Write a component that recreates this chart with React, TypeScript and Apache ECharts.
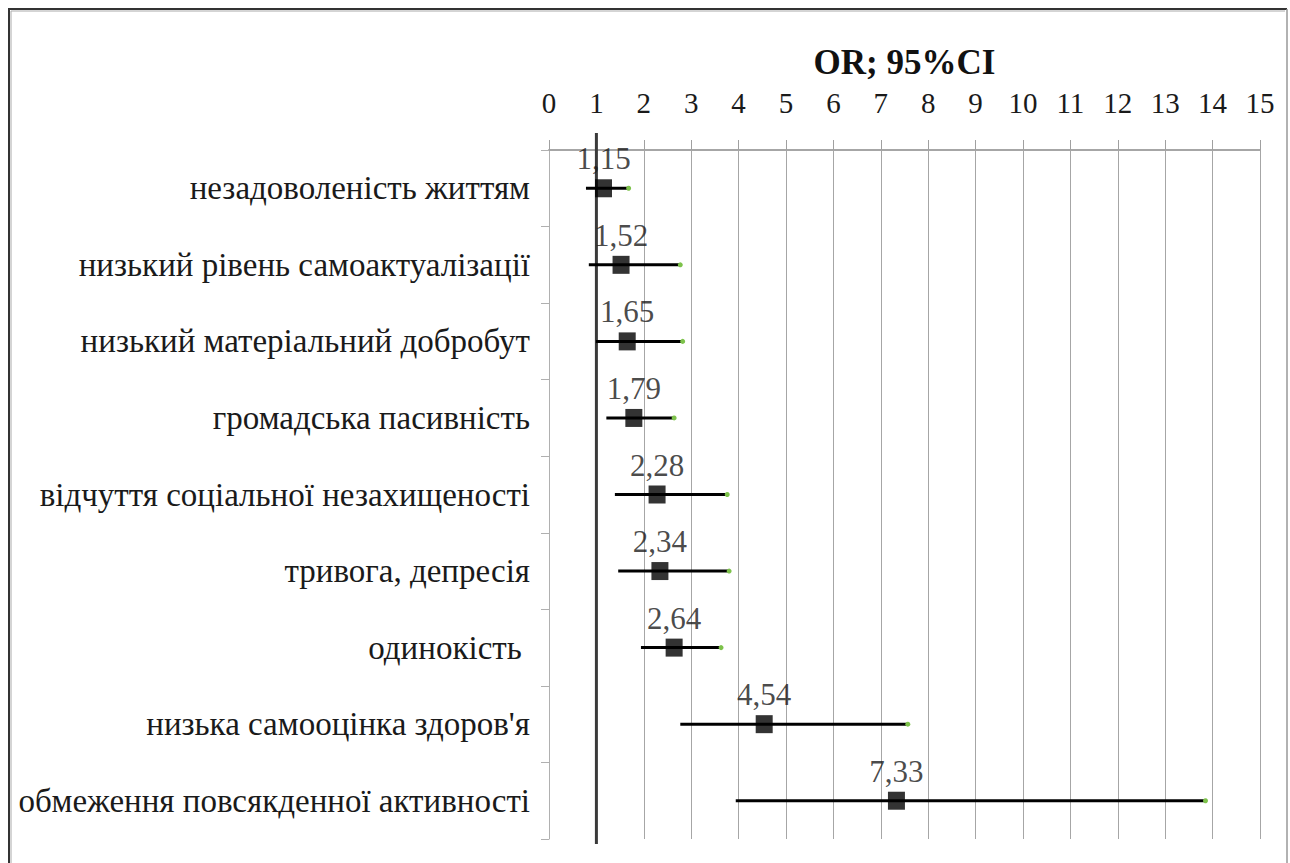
import React, { useEffect, useRef } from "react";
import * as echarts from "echarts";

const categories = [
  "незадоволеність життям",
  "низький рівень самоактуалізації",
  "низький матеріальний добробут",
  "громадська пасивність",
  "відчуття соціальної незахищеності",
  "тривога, депресія",
  "одинокість ",
  "низька самооцінка здоров'я",
  "обмеження повсякденної активності",
];
const orValues = [1.15, 1.52, 1.65, 1.79, 2.28, 2.34, 2.64, 4.54, 7.33];
const ciLow = [0.78, 0.84, 0.99, 1.21, 1.39, 1.46, 1.94, 2.77, 3.94];
const ciHigh = [1.68, 2.77, 2.82, 2.64, 3.76, 3.8, 3.63, 7.57, 13.85];
const refLine = [1];
const xTicks = { min: 0, max: 15, interval: 1 };

const FONT = "Liberation Serif";

export default function App() {
  const ref = useRef<HTMLDivElement>(null);
  useEffect(() => {
    if (!ref.current) return;
    const chart = echarts.init(ref.current, undefined, { renderer: "svg" });
    chart.setOption({
      animation: false,
      backgroundColor: "#fff",
      textStyle: { fontFamily: FONT },
      grid: { left: 549, right: 30, top: 150, bottom: 24 },
      graphic: [
        {
          type: "polyline",
          shape: { points: [[9, 870], [9, 9], [1287, 9]] },
          style: { stroke: "#333", lineWidth: 2, fill: null },
          silent: true,
        },
        {
          type: "line",
          shape: { x1: 1287, y1: 9, x2: 1287, y2: 870 },
          style: { stroke: "#999", lineWidth: 1.5 },
          silent: true,
        },
        {
          type: "polyline",
          shape: { points: [[11, 870], [11, 11], [1285, 11]] },
          style: { stroke: "#aaa", lineWidth: 1, fill: null },
          silent: true,
        },
      ],
      xAxis: {
        type: "value",
        position: "top",
        min: xTicks.min,
        max: xTicks.max,
        interval: xTicks.interval,
        name: "OR; 95%CI",
        nameLocation: "middle",
        nameGap: 70,
        nameTextStyle: { fontFamily: FONT, fontSize: 35, fontWeight: "bold", color: "#111" },
        axisLine: { show: true, lineStyle: { color: "#a6a6a6", width: 2 } },
        axisTick: { show: true, inside: false, length: 10, lineStyle: { color: "#a0a0a0" } },
        axisLabel: { fontFamily: FONT, fontSize: 29, color: "#1a1a1a", margin: 33 },
        splitLine: { show: true, lineStyle: { color: "#a6a6a6", width: 1 } },
      },
      yAxis: {
        type: "category",
        inverse: true,
        data: categories,
        axisLine: { show: true, lineStyle: { color: "#b0b0b0", width: 1 } },
        axisTick: { show: true, length: 8, lineStyle: { color: "#b0b0b0" } },
        axisLabel: { fontFamily: FONT, fontSize: 33, color: "#1a1a1a", margin: 19 },
        splitLine: { show: false },
      },
      series: [
        {
          type: "custom",
          name: "ref",
          data: refLine.map((v) => [v]),
          encode: { x: 0 },
          z: 3,
          renderItem: (params: any, api: any) => {
            const cs = params.coordSys;
            const x = api.coord([api.value(0), 0])[0];
            return {
              type: "line",
              shape: { x1: x, y1: cs.y - 17, x2: x, y2: cs.y + cs.height + 5 },
              style: { stroke: "#3a3a3a", lineWidth: 3 },
            };
          },
        },
        {
          type: "custom",
          name: "CI",
          data: ciLow.map((lo, i) => [lo, ciHigh[i], i]),
          encode: { x: [0, 1], y: 2 },
          z: 4,
          renderItem: (_params: any, api: any) => {
            const yi = api.value(2);
            const p1 = api.coord([api.value(0), yi]);
            const p2 = api.coord([api.value(1), yi]);
            return {
              type: "group",
              children: [
                {
                  type: "line",
                  shape: { x1: p1[0], y1: p1[1], x2: p2[0], y2: p2[1] },
                  style: { stroke: "#000", lineWidth: 3 },
                },
                {
                  type: "circle",
                  shape: { cx: p2[0], cy: p2[1], r: 2.5 },
                  style: { fill: "#7dc24b" },
                },
              ],
            };
          },
        },
        {
          type: "scatter",
          name: "OR",
          data: orValues.map((v, i) => [v, i]),
          symbol: "rect",
          symbolSize: [17, 18],
          itemStyle: { color: "#000" },
          z: 5,
          label: {
            show: true,
            position: "top",
            distance: 5,
            fontFamily: FONT,
            fontSize: 31,
            color: "#1a1a1a",
            formatter: (p: any) => String(p.value[0]).replace(".", ","),
          },
        },
      ],
    });
    return () => chart.dispose();
  }, []);
  return (
    <div
      ref={ref}
      style={{ position: "absolute", left: 0, top: 0, width: 1290, height: 863 }}
    />
  );
}
